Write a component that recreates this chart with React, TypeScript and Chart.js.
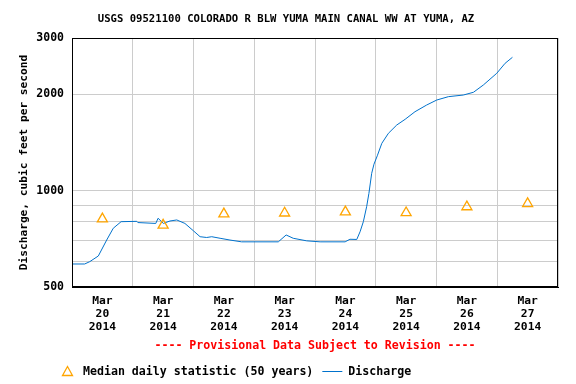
import { useEffect, useRef } from 'react';
import { Chart, registerables } from 'chart.js';

Chart.register(...registerables);

const TITLE = 'USGS 09521100 COLORADO R BLW YUMA MAIN CANAL WW AT YUMA, AZ';
const Y_TITLE = 'Discharge, cubic feet per second';
const PROVISIONAL = '---- Provisional Data Subject to Revision ----';
const MEDIAN_LABEL = 'Median daily statistic (50 years)';
const DISCHARGE_LABEL = 'Discharge';

// x axis: hours since Mar 20 2014 00:00
const X_MIN = 0;
const X_MAX = 192;
const dayNoonHours = [12, 36, 60, 84, 108, 132, 156, 180];
const dayMonth = ['Mar', 'Mar', 'Mar', 'Mar', 'Mar', 'Mar', 'Mar', 'Mar'];
const dayNumbers = ['20', '21', '22', '23', '24', '25', '26', '27'];
const dayYears = ['2014', '2014', '2014', '2014', '2014', '2014', '2014', '2014'];
const dayBoundaryHours = [0, 24, 48, 72, 96, 120, 144, 168, 192];

// median daily statistic, one per day (at noon)
const medianValues = [816, 780, 846, 851, 858, 853, 890, 911];

// discharge series
const dischargeHours = [
  0, 5, 7, 10.4, 13.7, 16.3, 19.4, 25.6, 26, 33.1, 34, 36.1, 38.7, 41.4, 44.6,
  47.9, 50.6, 53.2, 55.2, 58.5, 62.4, 67, 81.5, 84.6, 87.4, 92.7, 98, 107.9,
  109.8, 112.5, 113.8, 115.1, 116.4, 117.3, 118.4, 119.3, 120.6, 122.4, 125,
  128.3, 131.6, 135.5, 140.1, 144.1, 148.7, 154.6, 158.6, 162.5, 167.8, 171.1, 174,
];
const dischargeValues = [
  590, 590, 600, 625, 701, 763, 800, 802, 795, 790, 820, 790, 804, 810, 790,
  750, 718, 714, 718, 710, 701, 692, 692, 727, 710, 697, 692, 692,
  705, 704, 744, 800, 891, 981, 1133, 1210, 1285, 1406, 1511,
  1604, 1671, 1765, 1852, 1920, 1967, 1990, 2030, 2139, 2327, 2501, 2611,
];

// y axis (log)
const Y_MIN = 500;
const Y_MAX = 3000;
const yGridValues = [500, 600, 700, 800, 900, 1000, 2000, 3000];
const yLabeledValues = [500, 1000, 2000, 3000];

const FONT = '"DejaVu Sans Mono", monospace';
const BLUE = '#0072cc';
const ORANGE = '#ffa500';
const GRID = '#cccccc';

const overlayPlugin = {
  id: 'overlay',
  afterDraw(chart: any) {
    const { ctx, chartArea } = chart;
    const { left, top, right, bottom } = chartArea;
    ctx.save();
    // frame
    ctx.strokeStyle = '#000';
    ctx.lineWidth = 1;
    const l = Math.round(left) + 0.5;
    const t = Math.round(top) + 0.5;
    const r = Math.round(right) - 0.5;
    const b = Math.round(bottom) - 0.5;
    ctx.strokeRect(l, t, r - l, b - t);

    // title
    ctx.font = `bold 10.6px ${FONT}`;
    ctx.fillStyle = '#000';
    ctx.textAlign = 'center';
    ctx.textBaseline = 'middle';
    ctx.fillText(TITLE, 286, 19);

    // provisional note
    ctx.font = `bold 11.6px ${FONT}`;
    ctx.fillStyle = '#ff0000';
    ctx.fillText(PROVISIONAL, (left + right) / 2, 346);

    // legend
    const ly = 371.5;
    ctx.strokeStyle = ORANGE;
    ctx.lineWidth = 1.3;
    ctx.beginPath();
    ctx.moveTo(67.5, 366.5);
    ctx.lineTo(62.5, 375.5);
    ctx.lineTo(72.5, 375.5);
    ctx.closePath();
    ctx.stroke();

    ctx.fillStyle = '#000';
    ctx.textAlign = 'left';
    ctx.font = `bold 11.6px ${FONT}`;
    const tx = 83;
    ctx.fillText(MEDIAN_LABEL, tx, ly);
    const w = ctx.measureText(MEDIAN_LABEL).width;
    const lx0 = tx + w + 9;
    const lx1 = lx0 + 20;
    ctx.strokeStyle = BLUE;
    ctx.lineWidth = 1;
    ctx.beginPath();
    ctx.moveTo(lx0, ly);
    ctx.lineTo(lx1, ly);
    ctx.stroke();
    ctx.fillText(DISCHARGE_LABEL, lx1 + 6, ly);
    ctx.restore();
  },
};

export default function App() {
  const canvasRef = useRef<HTMLCanvasElement | null>(null);

  useEffect(() => {
    const canvas = canvasRef.current;
    if (!canvas) return;

    const dischargeData = dischargeHours.map((h, i) => ({ x: h, y: dischargeValues[i] }));
    const medianData = dayNoonHours.map((h, i) => ({ x: h, y: medianValues[i] }));
    const xTickValues: number[] = [];
    dayBoundaryHours.forEach((h, i) => {
      xTickValues.push(h);
      if (i < dayNoonHours.length) xTickValues.push(dayNoonHours[i]);
    });

    const chart = new Chart(canvas, {
      type: 'line',
      data: {
        datasets: [
          {
            label: MEDIAN_LABEL,
            data: medianData,
            showLine: false,
            pointStyle: 'triangle',
            pointRadius: 5.8,
            pointBorderWidth: 1.3,
            pointBorderColor: ORANGE,
            pointBackgroundColor: 'rgba(0,0,0,0)',
            borderColor: ORANGE,
            backgroundColor: 'rgba(0,0,0,0)',
            order: 0,
          },
          {
            label: DISCHARGE_LABEL,
            data: dischargeData,
            borderColor: BLUE,
            borderWidth: 1,
            pointRadius: 0,
            tension: 0,
            fill: false,
            order: 1,
          },
        ],
      },
      options: {
        responsive: false,
        animation: false,
        layout: { padding: { left: 0, right: 18, top: 38, bottom: 47 } },
        plugins: {
          legend: { display: false },
          tooltip: { enabled: false },
          title: { display: false },
        },
        scales: {
          x: {
            type: 'linear',
            min: X_MIN,
            max: X_MAX,
            afterBuildTicks: (scale: any) => {
              scale.ticks = xTickValues.map((v) => ({ value: v }));
            },
            afterFit: (scale: any) => {
              scale.height = 50;
            },
            grid: {
              drawTicks: false,
              color: (c: any) => {
                const v = c.tick ? c.tick.value : null;
                return v !== null && dayBoundaryHours.includes(v) ? GRID : 'rgba(0,0,0,0)';
              },
              lineWidth: 1,
            },
            border: { color: '#000', width: 1 },
            ticks: {
              autoSkip: false,
              maxRotation: 0,
              minRotation: 0,
              padding: 8,
              color: '#000',
              font: { family: FONT, size: 11.3, weight: 'bold', lineHeight: 1.14 },
              callback: (value: any) => {
                const i = dayNoonHours.indexOf(Number(value));
                return i >= 0 ? [dayMonth[i], dayNumbers[i], dayYears[i]] : '';
              },
            },
          },
          y: {
            type: 'logarithmic',
            min: Y_MIN,
            max: Y_MAX,
            afterBuildTicks: (scale: any) => {
              scale.ticks = yGridValues.map((v) => ({ value: v }));
            },
            afterFit: (scale: any) => {
              scale.width = 72;
            },
            grid: { drawTicks: false, color: GRID, lineWidth: 1 },
            border: { color: '#000', width: 1 },
            ticks: {
              autoSkip: false,
              padding: 8,
              color: '#000',
              font: { family: FONT, size: 11.5, weight: 'bold' },
              callback: (value: any) =>
                yLabeledValues.includes(Number(value)) ? String(value) : '',
            },
            title: {
              display: true,
              text: Y_TITLE,
              color: '#000',
              font: { family: FONT, size: 11.2, weight: 'bold', lineHeight: 1.2 },
              padding: { top: 17, bottom: 0 },
            },
          },
        },
      },
      plugins: [overlayPlugin],
    });

    return () => chart.destroy();
  }, []);

  return (
    <div style={{ position: 'fixed', left: 0, top: 0, width: 576, height: 384, background: '#fff' }}>
      <canvas ref={canvasRef} width={576} height={384} style={{ width: 576, height: 384, display: 'block' }} />
    </div>
  );
}
